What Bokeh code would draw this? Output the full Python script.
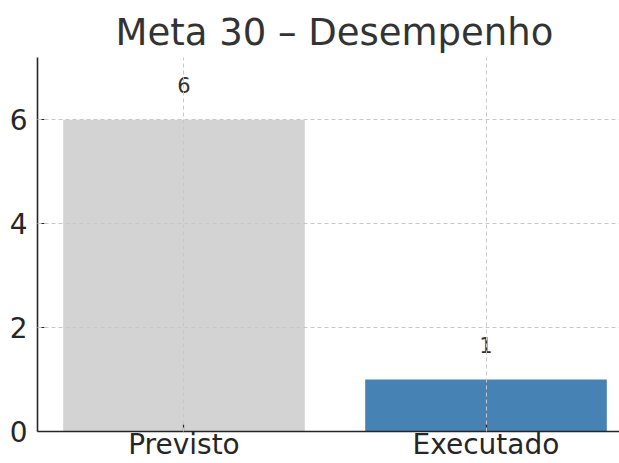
from bokeh.plotting import figure
from bokeh.models import ColumnDataSource, Range1d, FixedTicker
from bokeh.core.properties import value
from bokeh.embed import file_html
from bokeh.resources import INLINE

# ---- data ----
categories = ["Previsto", "Executado"]
values = [6, 1]
y_ticks = [0, 2, 4, 6]
title_text = "Meta 30 \u2013 Desempenho"

# ---- styles ----
bar_colors = ["#d3d3d3", "#4682b4"]
FONT = "DejaVu Sans"

xs = list(range(len(categories)))
src = ColumnDataSource(dict(
    x=xs,
    top=values,
    color=bar_colors,
    label=[str(v) for v in values],
    ly=[v + 0.5 for v in values],
))

p = figure(
    width=619, height=463,
    output_backend="svg", toolbar_location=None,
    x_range=Range1d(-0.485, 1.442),
    y_range=Range1d(0, max(values) * 1.2),
    min_border_left=37, min_border_right=0,
    min_border_top=57, min_border_bottom=0,
)
p.outline_line_color = None
p.background_fill_color = "white"
p.border_fill_color = "white"

p.vbar(x="x", top="top", width=0.8, color="color", line_color=None, source=src)
p.text(x="x", y="ly", text="label", source=src,
       text_font=value(FONT), text_font_size="21px", text_color="#333333",
       text_align="center", text_baseline="bottom", y_offset=-1)

# title
p.title.text = title_text
p.title.text_font = FONT
p.title.text_font_size = "37px"
p.title.text_font_style = "normal"
p.title.text_color = "#333333"
p.title.align = "left"
p.title.offset = 78
p.title.standoff = 8

# axes
p.xaxis.ticker = FixedTicker(ticks=xs)
p.xaxis.major_label_overrides = {i: c for i, c in enumerate(categories)}
p.yaxis.ticker = FixedTicker(ticks=y_ticks)
for ax in (p.xaxis, p.yaxis):
    ax.axis_line_color = "#262626"
    ax.axis_line_width = 1.6
    ax.major_tick_line_color = "#262626"
    ax.major_tick_line_width = 1.2
    ax.major_tick_in = 7
    ax.major_tick_out = 0
    ax.minor_tick_line_color = None
    ax.major_label_text_font = FONT
    ax.major_label_text_font_size = "28px"
    ax.major_label_text_color = "#262626"
p.xaxis.major_label_standoff = -4
p.yaxis.major_label_standoff = 10

# grid (drawn above the bars)
for g in (p.xgrid, p.ygrid):
    g.grid_line_color = "#c8c8c8"
    g.grid_line_width = 1
    g.grid_line_dash = "4 3"
    g.level = "annotation"

open("out.html", "w").write(file_html(p, INLINE))
